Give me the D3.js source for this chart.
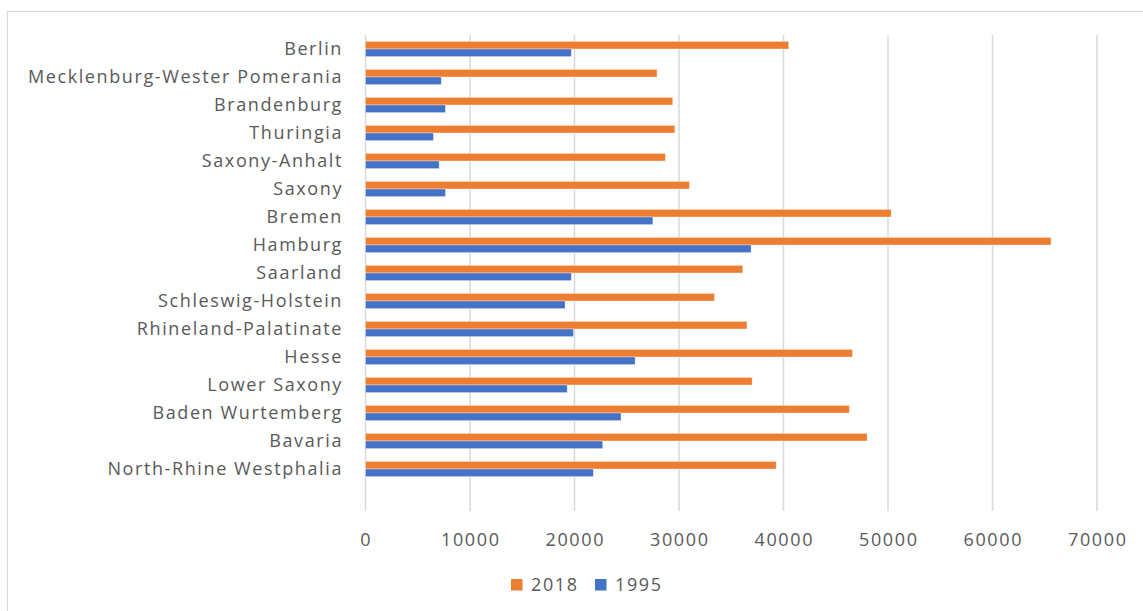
<!DOCTYPE html>
<html>
<head>
<meta charset="utf-8">
<script src="https://cdn.jsdelivr.net/npm/d3@7"></script>
<style>
  html, body { margin: 0; padding: 0; background: #fff; }
  svg text { font-family: "Open Sans", "Noto Sans", sans-serif; fill: #595959; }
</style>
</head>
<body>
<svg id="chart" width="1143" height="611"></svg>
<script>
// States listed top to bottom
const states = [
  "Berlin", "Mecklenburg-Wester Pomerania", "Brandenburg", "Thuringia",
  "Saxony-Anhalt", "Saxony", "Bremen", "Hamburg", "Saarland",
  "Schleswig-Holstein", "Rhineland-Palatinate", "Hesse", "Lower Saxony",
  "Baden Wurtemberg", "Bavaria", "North-Rhine Westphalia"
];
const values2018 = [40500, 27900, 29400, 29600, 28700, 31000, 50300, 65600,
                    36100, 33400, 36500, 46600, 37000, 46300, 48000, 39300];
const values1995 = [19700, 7250, 7650, 6500, 7050, 7650, 27500, 36900,
                    19700, 19100, 19900, 25800, 19300, 24450, 22700, 21800];
const seriesNames = ["2018", "1995"];
const seriesColors = ["#ED7D31", "#4472C4"];
const xTicks = [0, 10000, 20000, 30000, 40000, 50000, 60000, 70000];

const rows = states.map((s, i) => ({ state: s, v: [values2018[i], values1995[i]] }));

const svg = d3.select("#chart");
const fontSize = 18;
const spacing = 1.6;

// chart frame
svg.append("rect")
  .attr("x", 7.5).attr("y", 11.5).attr("width", 1150).attr("height", 620)
  .attr("fill", "none").attr("stroke", "#D9D9D9").attr("stroke-width", 1.2);

const plot = { left: 365.5, right: 1097, top: 35, bottom: 511 };
// the category axis reserves one empty slot below the last state
const slot = (plot.bottom - plot.top) / (states.length + 1);

const x = d3.scaleLinear().domain([0, 70000]).range([plot.left, plot.right]);
const y = d3.scaleBand().domain(states)
  .range([plot.top, plot.top + slot * states.length]).padding(0);
const ySub = d3.scaleBand().domain(seriesNames)
  .range([0, y.bandwidth()]).paddingInner(0).paddingOuter(0.84);

// vertical gridlines
svg.append("g").selectAll("line").data(xTicks).join("line")
  .attr("x1", d => x(d)).attr("x2", d => x(d))
  .attr("y1", plot.top).attr("y2", plot.bottom)
  .attr("stroke", "#D9D9D9").attr("stroke-width", 1.5);

// bars
const groups = svg.append("g").selectAll("g").data(rows).join("g")
  .attr("transform", d => `translate(0,${y(d.state)})`);
groups.selectAll("rect").data(d => d.v.map((val, k) => ({ k, val }))).join("rect")
  .attr("x", x(0))
  .attr("y", d => ySub(seriesNames[d.k]))
  .attr("width", d => x(d.val) - x(0))
  .attr("height", ySub.bandwidth())
  .attr("fill", d => seriesColors[d.k])
  .attr("stroke", "#fff").attr("stroke-opacity", 0.45).attr("stroke-width", 0.8);

// category labels
svg.append("g").selectAll("text").data(states).join("text")
  .attr("x", 343)
  .attr("y", d => y(d) + y.bandwidth() / 2)
  .attr("dy", "0.35em")
  .attr("text-anchor", "end")
  .attr("font-size", fontSize)
  .attr("letter-spacing", spacing)
  .text(d => d);

// value axis labels
svg.append("g").selectAll("text").data(xTicks).join("text")
  .attr("x", d => x(d) + spacing / 2)
  .attr("y", 540)
  .attr("dy", "0.35em")
  .attr("text-anchor", "middle")
  .attr("font-size", fontSize)
  .attr("letter-spacing", spacing)
  .text(d => d);

// legend
const legend = svg.append("g").selectAll("g").data(seriesNames).join("g")
  .attr("transform", (d, i) => `translate(${511 + i * 84},579)`);
legend.append("rect").attr("width", 11.5).attr("height", 11.5)
  .attr("fill", (d, i) => seriesColors[i]);
legend.append("text").attr("x", 20).attr("y", 6).attr("dy", "0.35em")
  .attr("font-size", fontSize).attr("letter-spacing", spacing)
  .text(d => d);
</script>
</body>
</html>
